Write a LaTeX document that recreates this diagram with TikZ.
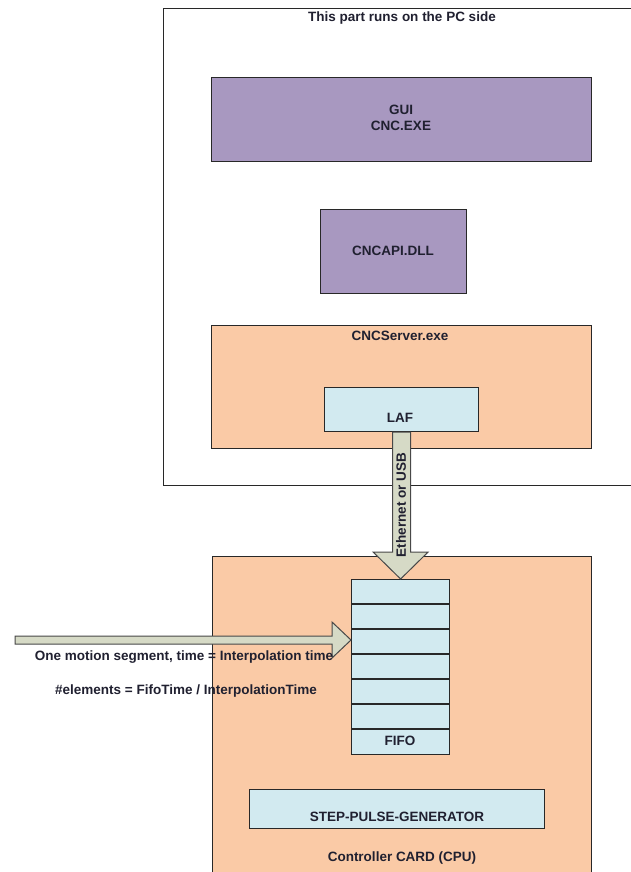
\documentclass[tikz,border=0pt]{standalone}
\usepackage{fontspec}
\setmainfont{Liberation Sans}
\definecolor{ink}{RGB}{32,32,48}
\definecolor{lilac}{RGB}{168,152,192}
\definecolor{peach}{RGB}{250,202,166}
\definecolor{iceblue}{RGB}{210,234,240}
\definecolor{sage}{RGB}{214,218,198}
\definecolor{edge}{RGB}{40,40,40}
\tikzset{
  box/.style={draw=edge, line width=1.2pt, inner sep=0pt, anchor=north west},
  lbl/.style={font=\fontsize{13.5}{16}\selectfont\bfseries, text=ink, inner sep=0pt, align=center},
  blockarrow/.style={draw=edge!85, line width=1pt, fill=sage, line join=miter},
  rowline/.style={draw=edge, line width=1.2pt},
}
\begin{document}
\begin{tikzpicture}[x=1pt,y=-1pt]
\path[use as bounding box] (0,0) rectangle (631,872);
\clip (0,0) rectangle (631,872);
\fill[white] (0,0) rectangle (631,872);
% PC side
\node[box, fill=white, minimum width=480pt, minimum height=477pt] (pc) at (163,8) {};
\node[lbl] (tpc) at (402,18) {This part runs on the PC side};
\node[box, fill=lilac, minimum width=380pt, minimum height=84pt] (gui) at (211,77) {};
\node[lbl] (tgui) at (401,118) {GUI\\CNC.EXE};
\node[box, fill=lilac, minimum width=146pt, minimum height=84pt] (api) at (320,209) {};
\node[lbl] (tapi) at (393,251) {CNCAPI.DLL};
\node[box, fill=peach, minimum width=380pt, minimum height=123pt] (server) at (211,325) {};
\node[lbl] (tserver) at (400,336) {CNCServer.exe};
\node[box, fill=iceblue, minimum width=154pt, minimum height=44pt] (laf) at (324,387) {};
\node[lbl] (tlaf) at (400,418) {LAF};
% controller
\node[box, fill=peach, minimum width=379pt, minimum height=330pt] (card) at (212,556) {};
\node[lbl] (tcard) at (402,858) {Controller CARD (CPU)};
\node[box, fill=iceblue, minimum width=98pt, minimum height=175pt] (fifo) at (351,579) {};
\foreach \k in {1,...,6}
  \draw[rowline] ([yshift=-\k*25pt]fifo.north west) -- ([yshift=-\k*25pt]fifo.north east);
\node[lbl] (tfifo) at (400,741) {FIFO};
\node[box, fill=iceblue, minimum width=295pt, minimum height=39pt] (spg) at (249,789) {};
\node[lbl] (tspg) at (397,817) {STEP-PULSE-GENERATOR};
% Ethernet arrow
\coordinate (shL) at ([xshift=-9pt]laf.south);
\coordinate (shR) at ([xshift=9pt]laf.south);
\coordinate (headL) at ([xshift=-27.5pt,yshift=27pt]fifo.north);
\coordinate (headR) at ([xshift=27.5pt,yshift=27pt]fifo.north);
\draw[blockarrow] (shL) -- (shL |- headL) -- (headL) -- (fifo.north) -- (headR) -- (shR |- headR) -- (shR) -- cycle;
\node[lbl, rotate=90] (tnet) at (401,505) {Ethernet or USB};
% motion segment arrow
\coordinate (segstart) at (15,640);
\coordinate (segtip) at (fifo.west |- segstart);
\draw[blockarrow] ([yshift=4pt]segstart) -- ([xshift=-19pt,yshift=4pt]segtip) -- ([xshift=-19pt,yshift=18pt]segtip) -- (segtip) -- ([xshift=-19pt,yshift=-18pt]segtip) -- ([xshift=-19pt,yshift=-4pt]segtip) -- ([yshift=-4pt]segstart) -- cycle;
\node[lbl] (tseg) at (184,657) {One motion segment, time = Interpolation time};
\node[lbl] (telem) at (186,691) {\#elements = FifoTime / InterpolationTime};
\end{tikzpicture}
\end{document}
